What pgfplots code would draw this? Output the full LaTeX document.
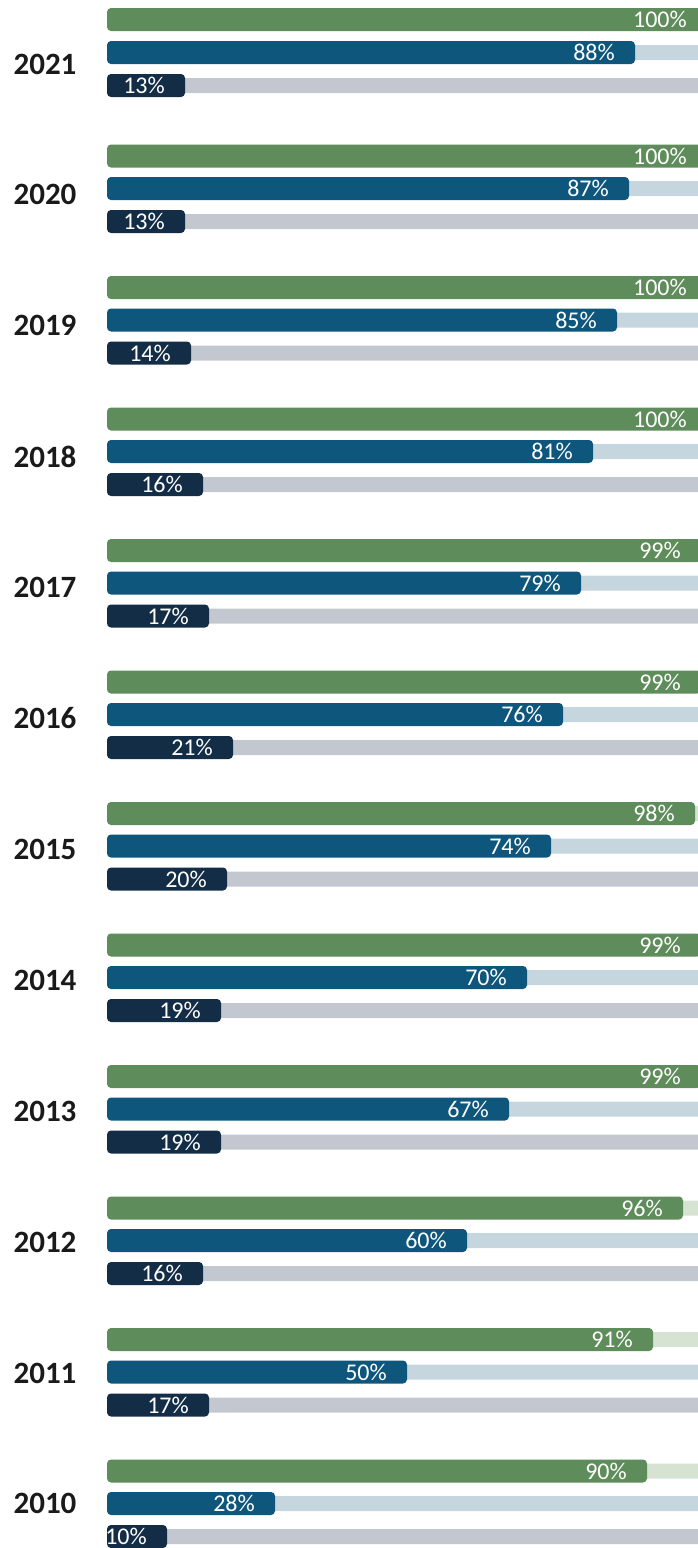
\documentclass[border=0pt]{standalone}
\usepackage{pgfplots}
\pgfplotsset{compat=1.18}
\usepackage{pgfplotstable}
\usepackage{fontspec}
\setmainfont{Carlito}
\definecolor{cg}{HTML}{5E8C5A}
\definecolor{cb}{HTML}{0E567C}
\definecolor{cn}{HTML}{142D46}
\definecolor{tg}{HTML}{D6E2D2}
\definecolor{tb}{HTML}{C5D6DF}
\definecolor{tn}{HTML}{C3C8D0}
\definecolor{yr}{HTML}{1A1A1A}

\pgfplotstableread{
y v t
19.5 100 100
156 100 100
287.5 100 100
419 100 100
550.5 99 100
682 99 100
813.5 98 100
945 99 100
1076.5 99 100
1208 96 100
1339.5 91 100
1471 90 100
}\greendata

\pgfplotstableread{
y v t
52.5 88 100
188.5 87 100
320 85 100
451.5 81 100
583 79 100
714.5 76 100
846 74 100
977.5 70 100
1109 67 100
1240.5 60 100
1372 50 100
1503.5 28 100
}\bluedata

\pgfplotstableread{
y v t
85.5 13 100
221.5 13 100
353 14 100
484.5 16 100
616 17 100
747.5 21 100
879 20 100
1010.5 19 100
1142 19 100
1273.5 16 100
1405 17 100
1536.5 10 100
}\navydata

\pgfplotstableread{
x y label
-10.33 64 2021
-10.33 194.5 2020
-10.33 325.5 2019
-10.33 456.5 2018
-10.33 587.5 2017
-10.33 718 2016
-10.33 849 2015
-10.33 980 2014
-10.33 1111 2013
-10.33 1242 2012
-10.33 1373 2011
-10.33 1503 2010
}\yeardata

\pgfplotsset{
  trk/.style={xbar, bar shift=0pt, bar width=15, draw=none, fill=#1},
  br/.style={xbar, bar shift=0pt, bar width=23, draw=none, fill=#1,
    rounded corners=4pt,
    point meta=x,
    nodes near coords={\pgfmathprintnumber{\pgfplotspointmeta}\%},
    nodes near coords align=east,
    every node near coord/.append style={anchor=east, xshift=-20pt,
      text=white, font=\fontsize{24}{25}\selectfont, inner sep=0pt}},
}

\begin{document}
\begin{tikzpicture}
\begin{axis}[
  width=698pt, height=1548pt, scale only axis,
  xmin=-17.8333, xmax=98.5, ymin=0, ymax=1548, y dir=reverse,
  hide axis, clip=false,
  /pgf/number format/assume math mode=true,
]
\addplot[trk=tg] table[x=t, y=y] {\greendata};
\addplot[trk=tb] table[x=t, y=y] {\bluedata};
\addplot[trk=tn] table[x=t, y=y] {\navydata};
\addplot[br=cg] table[x=v, y=y] {\greendata};
\addplot[br=cb] table[x=v, y=y] {\bluedata};
\addplot[br=cn] table[x=v, y=y] {\navydata};
\addplot[only marks, mark=none, point meta=explicit symbolic,
  nodes near coords, nodes near coords align=center,
  every node near coord/.append style={anchor=center, text=yr,
    font=\bfseries\fontsize{31}{33}\selectfont}]
  table[x=x, y=y, meta=label] {\yeardata};
\end{axis}
\pgfresetboundingbox
\path[use as bounding box] (current axis.south west) rectangle (current axis.north east);
\end{tikzpicture}
\end{document}
